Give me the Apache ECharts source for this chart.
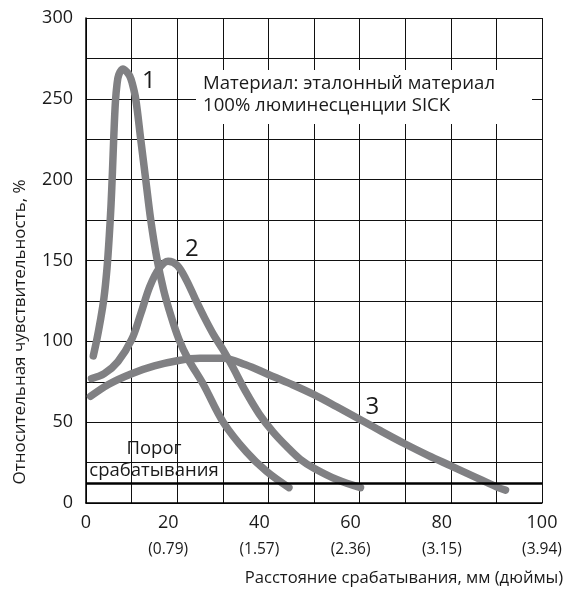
<!DOCTYPE html>
<html>
<head>
<meta charset="utf-8">
<script src="https://cdn.jsdelivr.net/npm/echarts@6/dist/echarts.min.js"></script>
<style>
  html, body { margin: 0; padding: 0; background: #fff; }
  #chart { width: 572px; height: 592px; }
</style>
</head>
<body>
<div id="chart"></div>
<script>
// curve 1 (sharp peak)
var curve1X = [1.6, 2.3, 3.1, 3.9, 4.6, 5.1, 5.5, 5.8, 6.1, 6.45, 6.8, 7.2, 8.1, 9.0, 9.6, 10.1, 10.9, 12.0, 13.1, 14.2, 15.5, 17.0, 18.6, 20.4, 22.4, 25.8, 30.1, 35.2, 39.6, 44.5];
var curve1Y = [91, 100, 112, 126, 145, 165, 185, 205, 227, 248, 259, 265, 268.5, 266.5, 264, 260, 250, 225, 200, 175, 152, 132, 116, 101, 89, 73, 50, 31.5, 19.5, 9.5];
// curve 2
var curve2X = [1.2, 4, 7, 10, 12, 14, 16, 18, 20, 22, 24, 26, 28, 30, 32, 35, 38, 41, 44, 47, 50, 55, 60.2];
var curve2Y = [77, 80, 87.5, 101, 117, 134, 145, 149.5, 147, 138, 126, 114.5, 104, 95, 85, 69, 55, 44, 35, 27, 21.5, 14.5, 9.5];
// curve 3 (flat)
var curve3X = [1, 5, 10, 15, 20, 25, 30, 35, 40, 45, 50, 55, 60, 65, 70, 75, 80, 85, 90, 92];
var curve3Y = [66, 73.5, 80, 84.8, 88, 89.5, 89.5, 85.5, 79.5, 73.5, 67, 59.5, 51.8, 44, 36.5, 29.5, 23, 16.5, 10, 8];

var curveNames = ['1', '2', '3'];
var curveLabelPos = [[13.8, 261], [23.2, 157], [62.8, 59.5]];
var threshold = 12;

var xTicksMm = [0, 20, 40, 60, 80, 100];
var xTicksInch = ['', '(0.79)', '(1.57)', '(2.36)', '(3.15)', '(3.94)'];

var yTitle = 'Относительная чувствительность, %';
var xTitle = 'Расстояние срабатывания, мм (дюймы)';
var materialText = 'Материал: эталонный материал\n100% люминесценции SICK';
var thresholdText = 'Порог\nсрабатывания';

var FONT = '"Open Sans", sans-serif';
var GRAY = '#808083';
var INK = '#1a1a1a';

function pairs(xs, ys) {
  return xs.map(function (x, i) { return [x, ys[i]]; });
}

function curveSeries(idx, xs, ys) {
  return {
    type: 'line',
    data: pairs(xs, ys),
    smooth: 0.35,
    symbol: 'none',
    lineStyle: { color: GRAY, width: 7.5, cap: 'round', join: 'round' },
    markPoint: {
      symbol: 'circle',
      symbolSize: 1,
      itemStyle: { color: 'rgba(0,0,0,0)' },
      label: {
        show: true,
        position: 'inside',
        formatter: '{b}',
        fontFamily: FONT,
        fontSize: 24,
        color: INK
      },
      data: [{ name: curveNames[idx], coord: curveLabelPos[idx] }]
    }
  };
}

var chart = echarts.init(document.getElementById('chart'));
var series = [
  curveSeries(0, curve1X, curve1Y),
  curveSeries(1, curve2X, curve2Y),
  curveSeries(2, curve3X, curve3Y)
];
series[0].markLine = {
  silent: true,
  symbol: 'none',
  label: { show: false },
  lineStyle: { color: '#000', width: 2.5, type: 'solid' },
  data: [{ yAxis: threshold }]
};

chart.setOption({
  animation: false,
  textStyle: { fontFamily: FONT },
  grid: { left: 86, right: 30, top: 18, bottom: 89 },
  xAxis: {
    type: 'value',
    min: 0,
    max: 100,
    interval: 10,
    axisLine: { lineStyle: { color: '#000', width: 1.5 } },
    axisTick: { show: false },
    splitLine: { lineStyle: { color: '#111', width: 1 } },
    axisLabel: {
      margin: 8,
      color: INK,
      formatter: function (v) {
        var i = xTicksMm.indexOf(v);
        if (i < 0) return '';
        if (i === 0) return '{e|' + v + '}';
        if (i === xTicksMm.length - 1) return '{e|' + v + '}\n{se|' + xTicksInch[i] + '}';
        return '{n|' + v + '}\n{s|' + xTicksInch[i] + '}';
      },
      rich: {
        e: { fontFamily: FONT, fontSize: 18, lineHeight: 24, color: INK },
        se: { fontFamily: FONT, fontSize: 15.5, lineHeight: 30, color: INK },
        n: { fontFamily: FONT, fontSize: 18, lineHeight: 24, color: INK, padding: [0, 18, 0, 0] },
        s: { fontFamily: FONT, fontSize: 15.5, lineHeight: 30, color: INK, padding: [0, 18, 0, 0] }
      }
    }
  },
  yAxis: {
    type: 'value',
    min: 0,
    max: 300,
    interval: 25,
    axisLine: { show: true, lineStyle: { color: '#000', width: 1.5 } },
    axisTick: { show: false },
    splitLine: { lineStyle: { color: '#111', width: 1 } },
    axisLabel: {
      margin: 13,
      fontFamily: FONT,
      fontSize: 18,
      color: INK,
      formatter: function (v) { return v % 50 === 0 ? String(v) : ''; }
    }
  },
  graphic: [
    {
      type: 'rect',
      z: 5,
      shape: { x: 196, y: 70, width: 336, height: 54 },
      style: { fill: '#fff' }
    },
    {
      type: 'text',
      z: 6,
      x: 203,
      y: 73,
      style: { text: materialText, font: '18.6px ' + FONT, lineHeight: 22, fill: INK }
    },
    {
      type: 'text',
      z: 6,
      x: 154,
      y: 460,
      style: { text: thresholdText, font: '18.5px ' + FONT, lineHeight: 22, fill: INK, align: 'center', verticalAlign: 'middle' }
    },
    {
      type: 'text',
      z: 6,
      x: 20,
      y: 332,
      rotation: Math.PI / 2,
      style: { text: yTitle, font: '17px ' + FONT, fill: INK, align: 'center', verticalAlign: 'middle' }
    },
    {
      type: 'text',
      z: 6,
      x: 404,
      y: 578,
      style: { text: xTitle, font: '16.6px ' + FONT, fill: INK, align: 'center', verticalAlign: 'middle' }
    }
  ],
  series: series
});
</script>
</body>
</html>
